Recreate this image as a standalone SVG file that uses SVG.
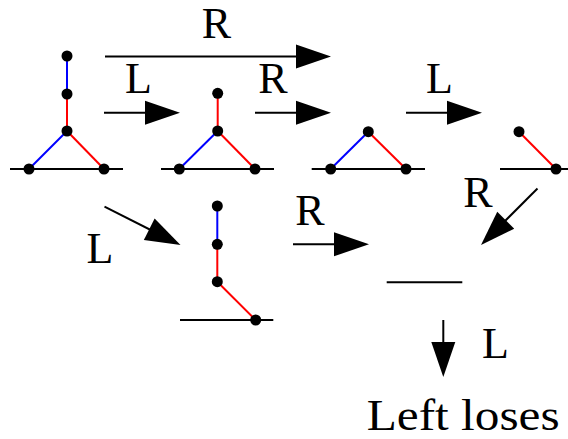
<svg xmlns="http://www.w3.org/2000/svg" width="568" height="439" viewBox="0 0 568 439">
<style>
.g{stroke:#000;stroke-width:2;fill:none}
.b{stroke:#0000ff;stroke-width:2;fill:none}
.r{stroke:#ff0000;stroke-width:2;fill:none}
.a{stroke:#000;stroke-width:2;fill:none}
.dot{fill:#000}
.lbl{font-family:'Liberation Serif',serif;font-size:44px;fill:#000}
</style>
<defs>
<path id="head" d="M0,0 L-35,-12 L-35,12 Z" fill="#000"/>
</defs>
<rect width="568" height="439" fill="#fff"/>
<g id="connectors">
<line class="a" x1="105" y1="56.5" x2="320" y2="56.5"/>
<use href="#head" transform="translate(331,56.5)"/>
<line class="a" x1="104" y1="112.7" x2="170" y2="112.7"/>
<use href="#head" transform="translate(180,112.7)"/>
<line class="a" x1="255" y1="112.7" x2="320" y2="112.7"/>
<use href="#head" transform="translate(331,112.7)"/>
<line class="a" x1="406" y1="112.7" x2="472" y2="112.7"/>
<use href="#head" transform="translate(482,112.7)"/>
<line class="a" x1="104.5" y1="206.7" x2="171.5" y2="240.5"/>
<use href="#head" transform="translate(180.5,245) rotate(26.7)"/>
<line class="a" x1="537.5" y1="188.5" x2="488" y2="238"/>
<use href="#head" transform="translate(481,245) rotate(135)"/>
<line class="a" x1="293" y1="244.3" x2="359" y2="244.3"/>
<use href="#head" transform="translate(369,244.3)"/>
<line class="a" x1="443.3" y1="320" x2="443.3" y2="367"/>
<use href="#head" transform="translate(443.3,377) rotate(90)"/>
<text class="lbl" x="216.5" y="38" text-anchor="middle">R</text>
<text class="lbl" x="138.5" y="93" text-anchor="middle">L</text>
<text class="lbl" x="273" y="93" text-anchor="middle">R</text>
<text class="lbl" x="439.5" y="93" text-anchor="middle">L</text>
<text class="lbl" x="100" y="263" text-anchor="middle">L</text>
<text class="lbl" x="478" y="207" text-anchor="middle">R</text>
<text class="lbl" x="310" y="225" text-anchor="middle">R</text>
<text class="lbl" x="495.5" y="358.3" text-anchor="middle">L</text>
</g>
<g id="n1">
<line class="g" x1="10" y1="169" x2="123" y2="169"/>
<line class="b" x1="67" y1="56" x2="67" y2="94"/>
<line class="r" x1="67" y1="94" x2="67" y2="131"/>
<line class="b" x1="67" y1="131" x2="29" y2="169"/>
<line class="r" x1="67" y1="131" x2="104" y2="169"/>
<circle class="dot" cx="67" cy="56" r="5.5"/><circle class="dot" cx="67" cy="94" r="5.5"/><circle class="dot" cx="67" cy="131" r="5.5"/><circle class="dot" cx="29" cy="169" r="5.5"/><circle class="dot" cx="104" cy="169" r="5.5"/>
</g>
<g id="n2">
<line class="g" x1="161" y1="169" x2="274" y2="169"/>
<line class="r" x1="217.7" y1="93.3" x2="217.7" y2="131"/>
<line class="b" x1="217.7" y1="131" x2="179.3" y2="169"/>
<line class="r" x1="217.7" y1="131" x2="255" y2="169"/>
<circle class="dot" cx="217.7" cy="93.3" r="5.5"/><circle class="dot" cx="217.7" cy="131" r="5.5"/><circle class="dot" cx="179.3" cy="169" r="5.5"/><circle class="dot" cx="255" cy="169" r="5.5"/>
</g>
<g id="n3">
<line class="g" x1="311.7" y1="169" x2="425" y2="169"/>
<line class="b" x1="368.3" y1="131.7" x2="330.7" y2="169"/>
<line class="r" x1="368.3" y1="131.7" x2="406" y2="169"/>
<circle class="dot" cx="368.3" cy="131.7" r="5.5"/><circle class="dot" cx="330.7" cy="169" r="5.5"/><circle class="dot" cx="406" cy="169" r="5.5"/>
</g>
<g id="n4">
<line class="g" x1="500" y1="169" x2="568" y2="169"/>
<line class="r" x1="519" y1="131.7" x2="556" y2="169"/>
<circle class="dot" cx="519" cy="131.7" r="5.5"/><circle class="dot" cx="556" cy="169" r="5.5"/>
</g>
<g id="n5">
<line class="g" x1="180" y1="320" x2="273.3" y2="320"/>
<line class="b" x1="217.3" y1="206" x2="217.3" y2="244.3"/>
<line class="r" x1="217.3" y1="244.3" x2="217.3" y2="281.7"/>
<line class="r" x1="217.3" y1="281.7" x2="255.7" y2="320"/>
<circle class="dot" cx="217.3" cy="206" r="5.5"/><circle class="dot" cx="217.3" cy="244.3" r="5.5"/><circle class="dot" cx="217.3" cy="281.7" r="5.5"/><circle class="dot" cx="255.7" cy="320" r="5.5"/>
</g>
<g id="n6">
<line class="g" x1="386.7" y1="282.3" x2="462.3" y2="282.3"/>
</g>
<g id="n7">
<text class="lbl" x="366.7" y="430" textLength="193" lengthAdjust="spacingAndGlyphs">Left loses</text>
</g>
</svg>
